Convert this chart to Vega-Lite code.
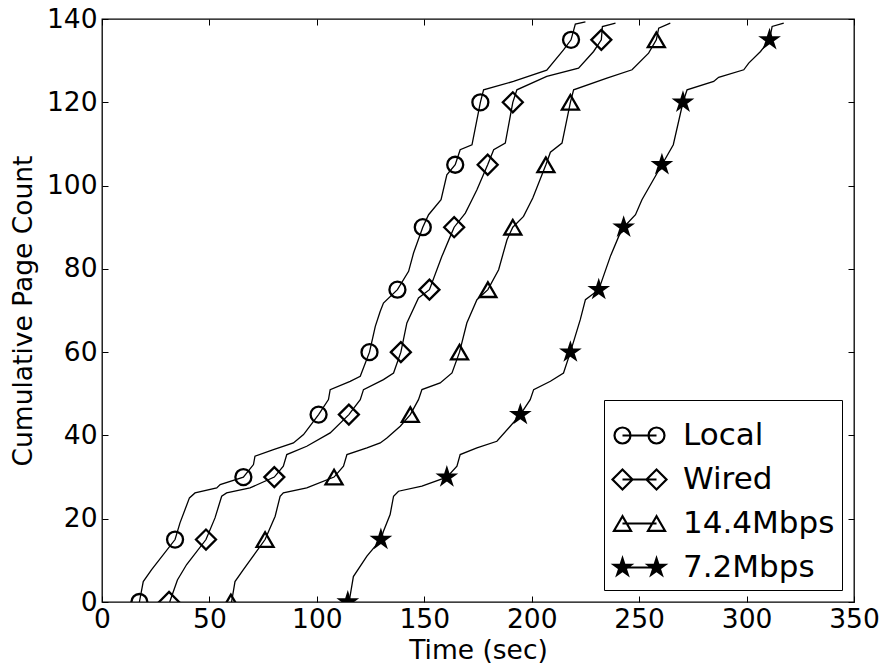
{
  "$schema": "https://vega.github.io/schema/vega-lite/v6.json",
  "width": 752,
  "height": 583,
  "autosize": {"type": "none"},
  "padding": {"left": 102, "top": 19, "right": 32, "bottom": 65},
  "background": "white",
  "config": {
    "view": {"stroke": "black", "strokeWidth": 1.3},
    "font": "DejaVu Sans",
    "axis": {"labelFont": "DejaVu Sans", "titleFont": "DejaVu Sans", "labelColor": "black", "titleColor": "black", "tickColor": "black", "tickWidth": 1, "grid": false, "domain": false, "labelFontSize": 26.5, "titleFontSize": 26.5, "titleFontWeight": "normal", "labelOverlap": false, "labelFlush": false}
  },
  "datasets": {
    "lines": [
      {"series": "Local", "t": 17.4, "pages": 0}, {"series": "Local", "t": 19.2, "pages": 4.9}, {"series": "Local", "t": 23.1, "pages": 7.8}, {"series": "Local", "t": 34, "pages": 15}, {"series": "Local", "t": 36.3, "pages": 19}, {"series": "Local", "t": 40.7, "pages": 25}, {"series": "Local", "t": 43.3, "pages": 26.2}, {"series": "Local", "t": 53.4, "pages": 27.4}, {"series": "Local", "t": 55, "pages": 28.2}, {"series": "Local", "t": 65.8, "pages": 30}, {"series": "Local", "t": 70.5, "pages": 33}, {"series": "Local", "t": 71.2, "pages": 35}, {"series": "Local", "t": 79.8, "pages": 36.6}, {"series": "Local", "t": 89.1, "pages": 38.2}, {"series": "Local", "t": 93.8, "pages": 40.2}, {"series": "Local", "t": 100.8, "pages": 45}, {"series": "Local", "t": 105.4, "pages": 48.6}, {"series": "Local", "t": 106.2, "pages": 51}, {"series": "Local", "t": 115.5, "pages": 53}, {"series": "Local", "t": 120.2, "pages": 54.2}, {"series": "Local", "t": 124.5, "pages": 60}, {"series": "Local", "t": 127.2, "pages": 66.2}, {"series": "Local", "t": 129.5, "pages": 69.8}, {"series": "Local", "t": 131, "pages": 71.8}, {"series": "Local", "t": 137.5, "pages": 75}, {"series": "Local", "t": 142.7, "pages": 79.4}, {"series": "Local", "t": 145, "pages": 83.8}, {"series": "Local", "t": 149.3, "pages": 90}, {"series": "Local", "t": 152, "pages": 93}, {"series": "Local", "t": 157.8, "pages": 96.6}, {"series": "Local", "t": 160.5, "pages": 102.6}, {"series": "Local", "t": 164.4, "pages": 105}, {"series": "Local", "t": 166.7, "pages": 108.6}, {"series": "Local", "t": 172.2, "pages": 109.8}, {"series": "Local", "t": 176.1, "pages": 120}, {"series": "Local", "t": 177.6, "pages": 123}, {"series": "Local", "t": 191.5, "pages": 125}, {"series": "Local", "t": 207, "pages": 127.7}, {"series": "Local", "t": 214.8, "pages": 132.6}, {"series": "Local", "t": 218.3, "pages": 135}, {"series": "Local", "t": 220.3, "pages": 138.8}, {"series": "Local", "t": 225, "pages": 139.3},
      {"series": "Wired", "t": 31.5, "pages": 0}, {"series": "Wired", "t": 35.1, "pages": 5.3}, {"series": "Wired", "t": 39.4, "pages": 9}, {"series": "Wired", "t": 48.4, "pages": 15}, {"series": "Wired", "t": 52.6, "pages": 20.2}, {"series": "Wired", "t": 55.7, "pages": 25.4}, {"series": "Wired", "t": 58, "pages": 26.2}, {"series": "Wired", "t": 68.9, "pages": 27.4}, {"series": "Wired", "t": 80.2, "pages": 30}, {"series": "Wired", "t": 84.4, "pages": 32.6}, {"series": "Wired", "t": 86, "pages": 35.4}, {"series": "Wired", "t": 95.3, "pages": 37.4}, {"series": "Wired", "t": 106.2, "pages": 40.6}, {"series": "Wired", "t": 114.9, "pages": 45}, {"series": "Wired", "t": 120.2, "pages": 48.6}, {"series": "Wired", "t": 121.7, "pages": 51}, {"series": "Wired", "t": 131, "pages": 53.4}, {"series": "Wired", "t": 135.7, "pages": 55}, {"series": "Wired", "t": 139.1, "pages": 60}, {"series": "Wired", "t": 141.9, "pages": 67}, {"series": "Wired", "t": 147.3, "pages": 73}, {"series": "Wired", "t": 152.4, "pages": 75}, {"series": "Wired", "t": 158.2, "pages": 83}, {"series": "Wired", "t": 162.1, "pages": 87.8}, {"series": "Wired", "t": 163.9, "pages": 90}, {"series": "Wired", "t": 169.1, "pages": 93.4}, {"series": "Wired", "t": 172.2, "pages": 96.6}, {"series": "Wired", "t": 174.5, "pages": 99}, {"series": "Wired", "t": 179.5, "pages": 105}, {"series": "Wired", "t": 182.3, "pages": 108.6}, {"series": "Wired", "t": 187.7, "pages": 110.2}, {"series": "Wired", "t": 191.2, "pages": 120}, {"series": "Wired", "t": 193.1, "pages": 123}, {"series": "Wired", "t": 207, "pages": 126.2}, {"series": "Wired", "t": 221.8, "pages": 128.2}, {"series": "Wired", "t": 228.8, "pages": 132.2}, {"series": "Wired", "t": 232.4, "pages": 135}, {"series": "Wired", "t": 232.9, "pages": 138.2}, {"series": "Wired", "t": 239, "pages": 139},
      {"series": "14.4Mbps", "t": 60.3, "pages": 0}, {"series": "14.4Mbps", "t": 61.9, "pages": 4.9}, {"series": "14.4Mbps", "t": 65.8, "pages": 7.8}, {"series": "14.4Mbps", "t": 75.9, "pages": 15}, {"series": "14.4Mbps", "t": 80.6, "pages": 20.6}, {"series": "14.4Mbps", "t": 82.9, "pages": 25.4}, {"series": "14.4Mbps", "t": 84.4, "pages": 26.2}, {"series": "14.4Mbps", "t": 95.3, "pages": 27.4}, {"series": "14.4Mbps", "t": 108, "pages": 30}, {"series": "14.4Mbps", "t": 112.4, "pages": 32.6}, {"series": "14.4Mbps", "t": 114, "pages": 35.4}, {"series": "14.4Mbps", "t": 123.3, "pages": 37}, {"series": "14.4Mbps", "t": 129.5, "pages": 38.2}, {"series": "14.4Mbps", "t": 132.6, "pages": 39.4}, {"series": "14.4Mbps", "t": 138.8, "pages": 42.2}, {"series": "14.4Mbps", "t": 143.5, "pages": 45}, {"series": "14.4Mbps", "t": 147.3, "pages": 48.6}, {"series": "14.4Mbps", "t": 148.9, "pages": 51}, {"series": "14.4Mbps", "t": 157.4, "pages": 52.6}, {"series": "14.4Mbps", "t": 162.9, "pages": 55}, {"series": "14.4Mbps", "t": 166.4, "pages": 60}, {"series": "14.4Mbps", "t": 169.8, "pages": 67}, {"series": "14.4Mbps", "t": 174.5, "pages": 72.6}, {"series": "14.4Mbps", "t": 179.6, "pages": 75}, {"series": "14.4Mbps", "t": 184.6, "pages": 79.8}, {"series": "14.4Mbps", "t": 188.5, "pages": 87}, {"series": "14.4Mbps", "t": 191.2, "pages": 90}, {"series": "14.4Mbps", "t": 196.2, "pages": 92.6}, {"series": "14.4Mbps", "t": 200.5, "pages": 97}, {"series": "14.4Mbps", "t": 206.6, "pages": 105}, {"series": "14.4Mbps", "t": 208.7, "pages": 108}, {"series": "14.4Mbps", "t": 214.1, "pages": 110.2}, {"series": "14.4Mbps", "t": 218, "pages": 120}, {"series": "14.4Mbps", "t": 219.5, "pages": 123}, {"series": "14.4Mbps", "t": 235, "pages": 125.8}, {"series": "14.4Mbps", "t": 246.7, "pages": 127.8}, {"series": "14.4Mbps", "t": 254.4, "pages": 131.8}, {"series": "14.4Mbps", "t": 258, "pages": 135}, {"series": "14.4Mbps", "t": 259.1, "pages": 137.8}, {"series": "14.4Mbps", "t": 264.5, "pages": 139},
      {"series": "7.2Mbps", "t": 115, "pages": 0}, {"series": "7.2Mbps", "t": 117, "pages": 6.1}, {"series": "7.2Mbps", "t": 123.3, "pages": 11}, {"series": "7.2Mbps", "t": 129.8, "pages": 15}, {"series": "7.2Mbps", "t": 131, "pages": 17}, {"series": "7.2Mbps", "t": 134.1, "pages": 21}, {"series": "7.2Mbps", "t": 135.7, "pages": 25.4}, {"series": "7.2Mbps", "t": 138, "pages": 26.6}, {"series": "7.2Mbps", "t": 148.9, "pages": 27.8}, {"series": "7.2Mbps", "t": 160.5, "pages": 30}, {"series": "7.2Mbps", "t": 165.2, "pages": 32.6}, {"series": "7.2Mbps", "t": 166.7, "pages": 35.4}, {"series": "7.2Mbps", "t": 174.5, "pages": 37}, {"series": "7.2Mbps", "t": 183.8, "pages": 38.6}, {"series": "7.2Mbps", "t": 190, "pages": 42.2}, {"series": "7.2Mbps", "t": 194.7, "pages": 45}, {"series": "7.2Mbps", "t": 199.3, "pages": 48.6}, {"series": "7.2Mbps", "t": 200.9, "pages": 51}, {"series": "7.2Mbps", "t": 208.7, "pages": 53}, {"series": "7.2Mbps", "t": 214.8, "pages": 55}, {"series": "7.2Mbps", "t": 218, "pages": 60}, {"series": "7.2Mbps", "t": 222.6, "pages": 67.8}, {"series": "7.2Mbps", "t": 225, "pages": 72.6}, {"series": "7.2Mbps", "t": 231.2, "pages": 75}, {"series": "7.2Mbps", "t": 236.6, "pages": 83}, {"series": "7.2Mbps", "t": 240.5, "pages": 87.8}, {"series": "7.2Mbps", "t": 242.8, "pages": 90}, {"series": "7.2Mbps", "t": 248.3, "pages": 93}, {"series": "7.2Mbps", "t": 251.3, "pages": 96.6}, {"series": "7.2Mbps", "t": 260.6, "pages": 105}, {"series": "7.2Mbps", "t": 265.9, "pages": 109.8}, {"series": "7.2Mbps", "t": 270.4, "pages": 120}, {"series": "7.2Mbps", "t": 272.3, "pages": 123}, {"series": "7.2Mbps", "t": 284.7, "pages": 125}, {"series": "7.2Mbps", "t": 287, "pages": 126}, {"series": "7.2Mbps", "t": 298.7, "pages": 127.8}, {"series": "7.2Mbps", "t": 301, "pages": 129.4}, {"series": "7.2Mbps", "t": 306.5, "pages": 132.2}, {"series": "7.2Mbps", "t": 310.7, "pages": 135}, {"series": "7.2Mbps", "t": 311.9, "pages": 138.2}, {"series": "7.2Mbps", "t": 317.3, "pages": 139}
    ],
    "markers": [
      {"series": "Local", "t": 17.4, "pages": 0}, {"series": "Local", "t": 34, "pages": 15}, {"series": "Local", "t": 65.8, "pages": 30}, {"series": "Local", "t": 100.8, "pages": 45}, {"series": "Local", "t": 124.5, "pages": 60}, {"series": "Local", "t": 137.5, "pages": 75}, {"series": "Local", "t": 149.3, "pages": 90}, {"series": "Local", "t": 164.4, "pages": 105}, {"series": "Local", "t": 176.1, "pages": 120}, {"series": "Local", "t": 218.3, "pages": 135},
      {"series": "Wired", "t": 31.2, "pages": 0}, {"series": "Wired", "t": 48.4, "pages": 15}, {"series": "Wired", "t": 80.2, "pages": 30}, {"series": "Wired", "t": 114.9, "pages": 45}, {"series": "Wired", "t": 139.1, "pages": 60}, {"series": "Wired", "t": 152.4, "pages": 75}, {"series": "Wired", "t": 163.9, "pages": 90}, {"series": "Wired", "t": 179.5, "pages": 105}, {"series": "Wired", "t": 191.2, "pages": 120}, {"series": "Wired", "t": 232.4, "pages": 135},
      {"series": "14.4Mbps", "t": 60, "pages": 0}, {"series": "14.4Mbps", "t": 75.9, "pages": 15}, {"series": "14.4Mbps", "t": 108, "pages": 30}, {"series": "14.4Mbps", "t": 143.5, "pages": 45}, {"series": "14.4Mbps", "t": 166.4, "pages": 60}, {"series": "14.4Mbps", "t": 179.6, "pages": 75}, {"series": "14.4Mbps", "t": 191.2, "pages": 90}, {"series": "14.4Mbps", "t": 206.6, "pages": 105}, {"series": "14.4Mbps", "t": 218, "pages": 120}, {"series": "14.4Mbps", "t": 258, "pages": 135},
      {"series": "7.2Mbps", "t": 114.4, "pages": 0}, {"series": "7.2Mbps", "t": 129.8, "pages": 15}, {"series": "7.2Mbps", "t": 160.5, "pages": 30}, {"series": "7.2Mbps", "t": 194.7, "pages": 45}, {"series": "7.2Mbps", "t": 218, "pages": 60}, {"series": "7.2Mbps", "t": 231.2, "pages": 75}, {"series": "7.2Mbps", "t": 242.8, "pages": 90}, {"series": "7.2Mbps", "t": 260.6, "pages": 105}, {"series": "7.2Mbps", "t": 270.4, "pages": 120}, {"series": "7.2Mbps", "t": 310.7, "pages": 135}
    ]
  },
  "layer": [
    {
      "data": {"name": "lines"},
      "mark": {"type": "line", "color": "black", "strokeWidth": 1.3},
      "encoding": {
        "x": {"field": "t", "type": "quantitative", "scale": {"domain": [0, 350], "nice": false},
              "axis": {"orient": "bottom", "values": [0, 50, 100, 150, 200, 250, 300, 350], "tickSize": -6, "labelPadding": 10.5, "title": "Time (sec)", "titlePadding": 4}},
        "y": {"field": "pages", "type": "quantitative", "scale": {"domain": [0, 140], "nice": false},
              "axis": {"orient": "left", "values": [0, 20, 40, 60, 80, 100, 120, 140], "tickSize": -6, "labelPadding": 11, "title": "Cumulative Page Count", "titlePadding": 9}},
        "detail": {"field": "series"}
      }
    },
    {
      "data": {"name": "markers"},
      "mark": {"type": "point", "filled": true, "size": 400, "strokeWidth": 2.3, "stroke": "black", "opacity": 1, "clip": true},
      "encoding": {
        "x": {"field": "t", "type": "quantitative", "axis": {"orient": "top", "values": [0, 50, 100, 150, 200, 250, 300, 350], "tickSize": -6, "labels": false, "title": null}},
        "y": {"field": "pages", "type": "quantitative", "axis": {"orient": "right", "values": [0, 20, 40, 60, 80, 100, 120, 140], "tickSize": -6, "labels": false, "title": null}},
        "fill": {"condition": {"test": "datum.series === '7.2Mbps'", "value": "black"}, "value": "transparent"},
        "shape": {
          "condition": [
            {"test": "datum.series === 'Local'", "value": "M0.8,0A0.8,0.8 0 1,0 -0.8,0A0.8,0.8 0 1,0 0.8,0Z"},
            {"test": "datum.series === 'Wired'", "value": "M-1,0L0,-1L1,0L0,1Z"},
            {"test": "datum.series === '14.4Mbps'", "value": "M0,-0.73L-0.85,0.73L0.85,0.73Z"}
          ],
          "value": "M0,-0.82L0.1827,-0.2514L0.7799,-0.2534L0.2955,0.096L0.482,0.6634L0,0.311L-0.482,0.6634L-0.2955,0.096L-0.7799,-0.2534L-0.1827,-0.2514Z"
        }
      }
    },
    {
      "data": {"name": "markers"},
      "mark": {"type": "point", "filled": false, "size": 0, "strokeWidth": 2.2, "stroke": "black", "clip": true},
      "encoding": {
        "x": {"field": "t", "type": "quantitative", "axis": null},
        "y": {"field": "pages", "type": "quantitative", "axis": null},
        "shape": {
          "field": "series", "type": "nominal",
          "scale": {"domain": ["Local", "Wired", "14.4Mbps", "7.2Mbps"],
                    "range": [
                      "M-0.334,0A0.296,0.296 0 1,0 -0.926,0A0.296,0.296 0 1,0 -0.334,0ZM-0.63,0L0.63,0M0.926,0A0.296,0.296 0 1,0 0.334,0A0.296,0.296 0 1,0 0.926,0Z",
                      "M-1,0L-0.63,-0.37L-0.26,0L-0.63,0.37ZM-0.63,0L0.63,0M0.26,0L0.63,-0.37L1,0L0.63,0.37Z",
                      "M-0.63,-0.27L-0.945,0.27L-0.315,0.27ZM-0.63,0L0.63,0M0.63,-0.27L0.315,0.27L0.945,0.27Z",
                      "M-0.63,-0.33L-0.5559,-0.1019L-0.3161,-0.102L-0.5102,0.0389L-0.436,0.267L-0.63,0.126L-0.824,0.267L-0.7498,0.0389L-0.9439,-0.102L-0.7041,-0.1019ZM-0.63,-0.2475L-0.5744,-0.0764L-0.3946,-0.0765L-0.5401,0.0292L-0.4845,0.2003L-0.63,0.0945L-0.7755,0.2003L-0.7199,0.0292L-0.8654,-0.0765L-0.6856,-0.0764ZM-0.63,-0.165L-0.593,-0.051L-0.473,-0.051L-0.5701,0.0195L-0.533,0.1335L-0.63,0.063L-0.727,0.1335L-0.6899,0.0195L-0.787,-0.051L-0.667,-0.051ZM-0.63,-0.0825L-0.6115,-0.0255L-0.5515,-0.0255L-0.6,0.0097L-0.5815,0.0668L-0.63,0.0315L-0.6785,0.0668L-0.66,0.0097L-0.7085,-0.0255L-0.6485,-0.0255ZM-0.63,0L0.63,0M0.63,-0.33L0.7041,-0.1019L0.9439,-0.102L0.7498,0.0389L0.824,0.267L0.63,0.126L0.436,0.267L0.5102,0.0389L0.3161,-0.102L0.5559,-0.1019ZM0.63,-0.2475L0.6856,-0.0764L0.8654,-0.0765L0.7199,0.0292L0.7755,0.2003L0.63,0.0945L0.4845,0.2003L0.5401,0.0292L0.3946,-0.0765L0.5744,-0.0764ZM0.63,-0.165L0.667,-0.051L0.787,-0.051L0.6899,0.0195L0.727,0.1335L0.63,0.063L0.533,0.1335L0.5701,0.0195L0.473,-0.051L0.593,-0.051ZM0.63,-0.0825L0.6485,-0.0255L0.7085,-0.0255L0.66,0.0097L0.6785,0.0668L0.63,0.0315L0.5815,0.0668L0.6,0.0097L0.5515,-0.0255L0.6115,-0.0255Z"
                    ]},
          "legend": {
            "title": null, "orient": "bottom-right", "offset": 12, "padding": 7,
            "strokeColor": "black", "fillColor": "white",
            "labelFont": "DejaVu Sans", "labelFontSize": 31, "labelColor": "black", "labelOffset": 15, "labelLimit": 300,
            "symbolSize": 2916, "symbolStrokeWidth": 2.2, "symbolStrokeColor": "black", "symbolFillColor": "transparent", "symbolOpacity": 1, "rowPadding": -1.5
          }
        }
      }
    }
  ],
  "resolve": {"axis": {"x": "independent", "y": "independent"}}
}
